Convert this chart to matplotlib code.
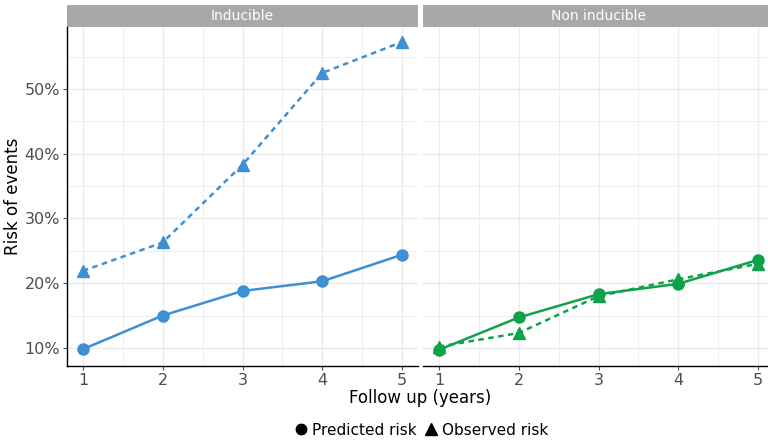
import numpy as np
import matplotlib
matplotlib.use("Agg")
import matplotlib.pyplot as plt
from matplotlib.patches import Rectangle
from matplotlib.lines import Line2D
import matplotlib.ticker as ticker

# data
years = [1, 2, 3, 4, 5]
panels = ["Inducible", "Non inducible"]
pred_inducible = [9.8, 15.0, 18.8, 20.3, 24.4]
obs_inducible = [21.9, 26.3, 38.3, 52.5, 57.3]
pred_noninducible = [9.7, 14.7, 18.3, 19.9, 23.6]
obs_noninducible = [10.2, 12.3, 18.0, 20.6, 23.0]

colors = {"Inducible": "#3F8FD4", "Non inducible": "#0EA24A"}
series = {
    "Inducible": (pred_inducible, obs_inducible),
    "Non inducible": (pred_noninducible, obs_noninducible),
}

W, H = 768, 444
fig = plt.figure(figsize=(W / 100, H / 100), dpi=100)

ax_top, ax_bot = 27, 366
lefts = [67, 423]
pw = 351
strip_h = 22

grid_col = "#EBEBEB"
tick_col = "#4D4D4D"

axes = []
for i, name in enumerate(panels):
    ax = fig.add_axes([lefts[i] / W, 1 - ax_bot / H, pw / W, (ax_bot - ax_top) / H])
    axes.append(ax)
    pred, obs = series[name]
    c = colors[name]
    ax.plot(years, pred, color=c, lw=1.8, marker="o", ms=8, zorder=3)
    ax.plot(years, obs, color=c, lw=1.8, ls=(0, (2.2, 1.8)), marker="^", ms=9, zorder=3)

    ax.set_xlim(0.8, 5.2)
    ax.set_ylim(7.2, 59.6)
    ax.set_xticks(years)
    ax.set_xticks([1.5, 2.5, 3.5, 4.5], minor=True)
    ax.set_yticks([10, 20, 30, 40, 50])
    ax.set_yticks([15, 25, 35, 45, 55], minor=True)
    ax.yaxis.set_major_formatter(ticker.FuncFormatter(lambda v, _: f"{int(v)}%"))
    ax.grid(True, which="major", color=grid_col, lw=1.0)
    ax.grid(True, which="minor", color=grid_col, lw=0.6)
    ax.set_axisbelow(True)
    for s in ["top", "right"]:
        ax.spines[s].set_visible(False)
    ax.spines["bottom"].set_color("black")
    ax.spines["bottom"].set_linewidth(1.0)
    ax.tick_params(axis="both", which="major", labelsize=11.5, colors=tick_col,
                   length=3, width=0.8, labelcolor=tick_col, pad=2)
    ax.tick_params(axis="both", which="minor", length=0)
    if i == 0:
        ax.spines["left"].set_color("black")
        ax.spines["left"].set_linewidth(1.0)
        ax.set_ylabel("Risk of events", fontsize=12, color="black", labelpad=2)
    else:
        ax.spines["left"].set_visible(False)
        ax.tick_params(axis="y", which="both", left=False, labelleft=False)

    # facet strip
    sh = strip_h / (ax_bot - ax_top)
    ax.add_patch(Rectangle((0, 1), 1, sh, transform=ax.transAxes,
                           facecolor="#A8A8A8", edgecolor="none", clip_on=False))
    ax.text(0.5, 1 + sh / 2, name, transform=ax.transAxes, ha="center",
            va="center", color="white", fontsize=10)

fig.text((67 + 423 + pw) / 2 / W, 1 - 398 / H, "Follow up (years)",
         ha="center", va="center", fontsize=12)

handles = [
    Line2D([], [], color="black", marker="o", ls="none", ms=7.5),
    Line2D([], [], color="black", marker="^", ls="none", ms=8.5),
]
fig.legend(handles, ["Predicted risk", "Observed risk"], loc="center",
           bbox_to_anchor=(420 / W, 1 - 430 / H), ncol=2, frameon=False,
           fontsize=11, handletextpad=0.1, columnspacing=0.4, handlelength=1.2)

fig.savefig("out.png", dpi=100)
